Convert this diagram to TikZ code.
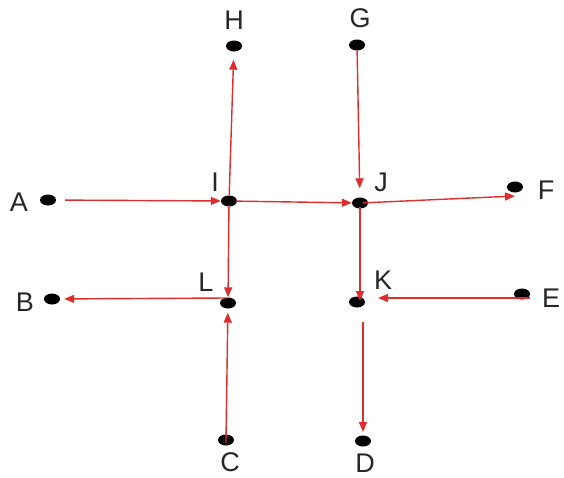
\documentclass[tikz,border=0pt]{standalone}
\usepackage{fontspec}
\setmainfont{Liberation Sans}
\usetikzlibrary{shapes.geometric,arrows.meta}
\definecolor{arrred}{RGB}{222,45,45}
\begin{document}
\begin{tikzpicture}[x=1pt,y=-1pt,
  dot/.style={ellipse,fill=black,draw=none,minimum width=16pt,minimum height=11pt,inner sep=0pt},
  lbl/.style={font=\fontsize{27}{30}\selectfont,inner sep=0pt,text=black!85},
  arr/.style={draw=arrred,line width=1.4pt,-{Triangle[length=10pt,width=8pt]}}]
\useasboundingbox (0,0) rectangle (564,477);
% dots
\node[dot] (H) at (234,46) {};
\node[dot] (G) at (357,45) {};
\node[dot] (A) at (48,200) {};
\node[dot] (I) at (229,201) {};
\node[dot] (J) at (360,203) {};
\node[dot] (F) at (515,187) {};
\node[dot] (B) at (52,299) {};
\node[dot] (L) at (228,303) {};
\node[dot] (K) at (357,302) {};
\node[dot] (E) at (522,294) {};
\node[dot] (C) at (226,440) {};
\node[dot] (D) at (363,441) {};
% labels
\node[lbl] (tH) at (234,20) {H};
\node[lbl] (tG) at (360,18) {G};
\node[lbl] (tA) at (19,202) {A};
\node[lbl] (tI) at (215,182) {I};
\node[lbl] (tJ) at (381,182) {J};
\node[lbl] (tF) at (546,190) {F};
\node[lbl] (tB) at (25,302) {B};
\node[lbl] (tL) at (206,282) {L};
\node[lbl] (tK) at (383,280) {K};
\node[lbl] (tE) at (551,298) {E};
\node[lbl] (tC) at (230,462) {C};
\node[lbl] (tD) at (365,463) {D};
% helper coordinates
\coordinate (Fend) at (515,196);
\coordinate (Kin) at (357,298);
\coordinate (Lout) at (226,298);
\coordinate (Ein) at (530,298);
\coordinate (Jdown) at (360,207);
\coordinate (Ktop) at (360,301);
\coordinate (Kout) at (363,322);
\coordinate (Dtop) at (363,432);
% connectors
\draw[arr,shorten <=9pt] (A) -- (I);
\draw[arr,shorten <=6pt,shorten >=8pt] (I.center) -- (H);
\draw[arr,shorten <=7pt] (I.center) -- (J);
\draw[arr,shorten >=9pt] (G) -- (J);
\draw[arr,shorten <=3pt] (J.center) -- (Fend);
\draw[arr] (Jdown) -- (Ktop);
\draw[arr,shorten <=4pt] (I.center) -- (L);
\draw[arr,shorten >=4pt] (Lout) -- (B);
\draw[arr,shorten <=-3pt,shorten >=4pt] (C.center) -- (L);
\draw[arr,shorten >=21pt] (Ein) -- (Kin);
\draw[arr] (Kout) -- (Dtop);
\end{tikzpicture}
\end{document}
